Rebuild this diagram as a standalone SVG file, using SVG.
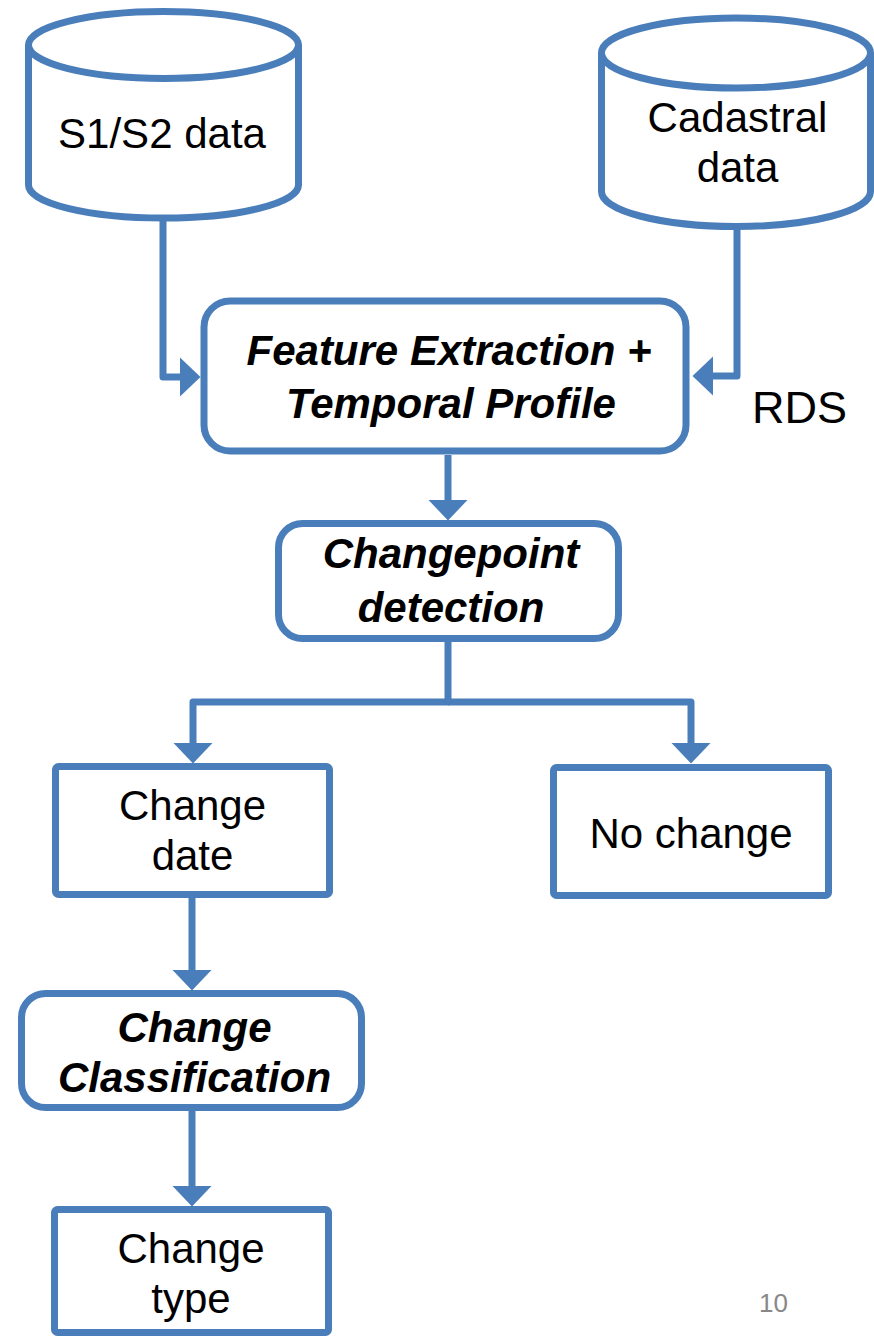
<svg xmlns="http://www.w3.org/2000/svg" width="874" height="1336" viewBox="0 0 874 1336">
<style>
.shape{fill:#ffffff;stroke:#4A7EBB;stroke-width:7}
.conn{fill:none;stroke:#4A7EBB;stroke-width:7;stroke-linejoin:round}
.t{font-family:"Liberation Sans",Arial,sans-serif;font-size:42px;fill:#000;text-anchor:middle}
.bi{font-weight:bold;font-style:italic}
.pg{font-family:"Liberation Sans",Arial,sans-serif;font-size:26px;fill:#888888}
</style>
<defs>
<marker id="arr" markerUnits="userSpaceOnUse" markerWidth="22" markerHeight="42" viewBox="0 -21 22 42" refX="0" refY="0" orient="auto">
<path d="M0,-19.5 L20.5,0 L0,19.5 z" fill="#4A7EBB"/>
</marker>
</defs>
<rect width="874" height="1336" fill="#ffffff"/>
<g id="connectors">
<path class="conn" d="M163,218 V377 H180" marker-end="url(#arr)"/>
<path class="conn" d="M737,226 V376 H713" marker-end="url(#arr)"/>
<path class="conn" d="M448,455 V500" marker-end="url(#arr)"/>
<path class="conn" d="M448,642 V702 H193 V743" marker-end="url(#arr)"/>
<path class="conn" d="M448,702 H691 V743" marker-end="url(#arr)"/>
<path class="conn" d="M192,898 V970" marker-end="url(#arr)"/>
<path class="conn" d="M192,1111 V1186" marker-end="url(#arr)"/>
</g>
<g id="s1s2">
<path class="shape" d="M28.5,45 V185 A135,33 0 0 0 298.5,185 V45"/>
<ellipse class="shape" cx="163.5" cy="45" rx="135" ry="33.5"/>
<text class="t" x="162" y="148">S1/S2 data</text>
</g>
<g id="cadastral">
<path class="shape" d="M601.5,53 V191.5 A134.5,35 0 0 0 870.5,191.5 V53"/>
<ellipse class="shape" cx="736" cy="53" rx="134.5" ry="35"/>
<text class="t" x="737.5" y="132">Cadastral</text>
<text class="t" x="737.5" y="182">data</text>
</g>
<g id="feature">
<rect class="shape" x="204" y="301" width="482" height="150" rx="26"/>
<text class="t bi" x="449" y="365">Feature Extraction +</text>
<text class="t bi" x="451" y="418">Temporal Profile</text>
</g>
<g id="rds">
<text class="t" x="752" y="423" style="text-anchor:start;font-size:45px">RDS</text>
</g>
<g id="changepoint">
<rect class="shape" x="278.5" y="523.5" width="340" height="115" rx="24"/>
<text class="t bi" x="451" y="568">Changepoint</text>
<text class="t bi" x="451" y="622">detection</text>
</g>
<g id="changedate">
<rect class="shape" x="55.5" y="766.5" width="274" height="128" rx="3"/>
<text class="t" x="192.5" y="820">Change</text>
<text class="t" x="192.5" y="870">date</text>
</g>
<g id="nochange">
<rect class="shape" x="553.5" y="767.5" width="275" height="128" rx="3"/>
<text class="t" x="691" y="848">No change</text>
</g>
<g id="classification">
<rect class="shape" x="21.5" y="993.5" width="340" height="114" rx="24"/>
<text class="t bi" x="194.5" y="1042">Change</text>
<text class="t bi" x="194.5" y="1092">Classification</text>
</g>
<g id="changetype">
<rect class="shape" x="54.5" y="1209.5" width="274" height="123" rx="3"/>
<text class="t" x="191" y="1263">Change</text>
<text class="t" x="191" y="1313">type</text>
</g>
<g id="page">
<text class="pg" x="759" y="1312">10</text>
</g>
</svg>
